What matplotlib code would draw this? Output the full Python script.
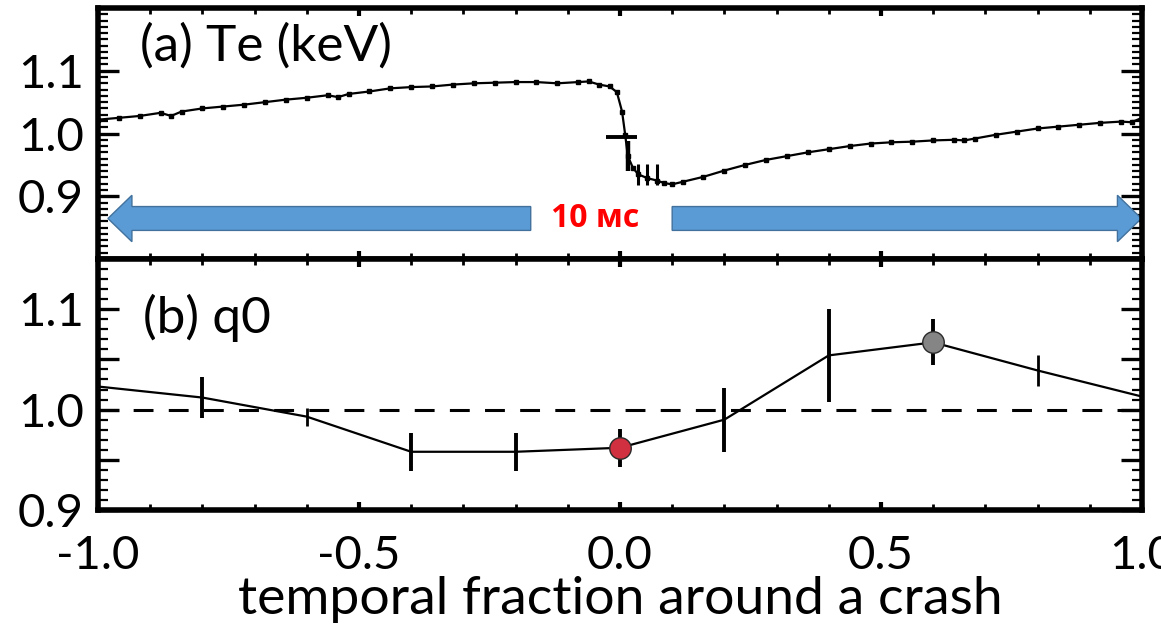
import numpy as np
import matplotlib
matplotlib.use("Agg")
import matplotlib.pyplot as plt
from matplotlib.patches import FancyArrow
from matplotlib.ticker import FixedLocator, MultipleLocator, FuncFormatter

plt.rcParams["font.family"] = ["Lato", "DejaVu Sans"]
plt.rcParams["axes.unicode_minus"] = False

# ── (a) Te (keV) trace ────────────────────────────────────────────────────────
te_x = [-1.00, -0.96, -0.92, -0.88, -0.86, -0.84, -0.80, -0.76, -0.72, -0.68,
        -0.64, -0.60, -0.56, -0.54, -0.52, -0.48, -0.44, -0.40, -0.36, -0.32,
        -0.28, -0.24, -0.20, -0.16, -0.12, -0.08, -0.06, -0.04, -0.02, -0.006,
        0.004, 0.010, 0.015, 0.025, 0.035, 0.052, 0.071, 0.085, 0.100, 0.12,
        0.16, 0.20, 0.24, 0.28, 0.32, 0.36, 0.40, 0.44, 0.48, 0.52,
        0.56, 0.60, 0.64, 0.66, 0.68, 0.72, 0.76, 0.80, 0.84, 0.88,
        0.92, 0.96, 0.98, 1.00]
te_y = [1.022, 1.025, 1.028, 1.033, 1.028, 1.035, 1.040, 1.043, 1.046, 1.050,
        1.054, 1.057, 1.061, 1.058, 1.063, 1.067, 1.072, 1.074, 1.075, 1.078,
        1.080, 1.081, 1.082, 1.082, 1.080, 1.082, 1.083, 1.078, 1.075, 1.066,
        1.035, 0.998, 0.964, 0.945, 0.935, 0.929, 0.925, 0.921, 0.919, 0.923,
        0.931, 0.941, 0.950, 0.958, 0.964, 0.970, 0.975, 0.980, 0.984, 0.986,
        0.987, 0.989, 0.990, 0.989, 0.992, 0.998, 1.003, 1.008, 1.011, 1.014,
        1.017, 1.019, 1.018, 1.025]

# error bars around the crash
te_vbar_x = [0.015, 0.035, 0.052, 0.071]
te_vbar_y = [0.964, 0.935, 0.935, 0.935]
te_vbar_dy = [0.024, 0.017, 0.017, 0.017]
te_hbar_x = [0.003]
te_hbar_y = [0.995]
te_hbar_dx = [0.030]

# ── (b) q0 ────────────────────────────────────────────────────────────────────
q_x = [-1.0, -0.8, -0.6, -0.4, -0.2, 0.0, 0.2, 0.4, 0.6, 0.8, 1.0]
q_y = [1.023, 1.012, 0.993, 0.958, 0.958, 0.962, 0.990, 1.054, 1.067, 1.039, 1.013]
q_err = [0.0, 0.020, 0.009, 0.019, 0.019, 0.019, 0.032, 0.046, 0.023, 0.015, 0.0]
thin_bars = [2, 9]
red_idx, grey_idx = 5, 8

fig = plt.figure(figsize=(11.61, 6.27), dpi=100)
ax_a = fig.add_axes([0.0844, 0.5869, 0.8992, 0.4003])
ax_b = fig.add_axes([0.0844, 0.1866, 0.8992, 0.4003])

# ── panel (a) ─────────────────────────────────────────────────────────────────
ax_a.plot(te_x, te_y, color="black", lw=1.6, marker="s", ms=2.8,
          mec="black", mfc="black", zorder=3)
ax_a.errorbar(te_vbar_x[:1], te_vbar_y[:1], yerr=te_vbar_dy[:1], fmt="none",
              ecolor="black", elinewidth=3.2, capsize=0, zorder=3)
ax_a.errorbar(te_vbar_x[1:], te_vbar_y[1:], yerr=te_vbar_dy[1:], fmt="none",
              ecolor="black", elinewidth=2.2, capsize=0, zorder=3)
ax_a.errorbar(te_hbar_x, te_hbar_y, xerr=te_hbar_dx, fmt="none",
              ecolor="black", elinewidth=2.8, capsize=0, zorder=3)

# 10 ms double arrow
arrow_kw = dict(width=0.038, head_width=0.074, head_length=0.046,
                length_includes_head=True, fc="#5B9BD5", ec="#41719C",
                lw=1.0, zorder=2)
ax_a.add_patch(FancyArrow(-0.171, 0.8646, -0.81, 0.0, **arrow_kw))
ax_a.add_patch(FancyArrow(0.100, 0.8646, 0.899, 0.0, **arrow_kw))
ax_a.text(-0.048, 0.8646, "10 мс", color="#FF0000", fontsize=23,
          fontweight="bold", ha="center", va="center",
          family=["Open Sans", "DejaVu Sans"])

ax_a.text(0.040, 0.849, "(a) Te (keV)", transform=ax_a.transAxes,
          fontsize=37, ha="left", va="center")

ax_a.set_ylim(0.8, 1.2)
ax_a.yaxis.set_major_locator(FixedLocator([0.9, 1.0, 1.1]))
ax_a.yaxis.set_minor_locator(MultipleLocator(0.01))
ax_a.yaxis.set_major_formatter(FuncFormatter(lambda v, p: f"{v:.1f}"))

# ── panel (b) ─────────────────────────────────────────────────────────────────
ax_b.axhline(1.0, color="black", lw=2.2, linestyle=(0, (6.5, 5.0)), zorder=1)
ax_b.plot(q_x, q_y, color="black", lw=1.6, zorder=2)
thick = [i for i in range(len(q_x)) if i not in thin_bars and q_err[i] > 0]
ax_b.errorbar([q_x[i] for i in thick], [q_y[i] for i in thick],
              yerr=[q_err[i] for i in thick], fmt="none", ecolor="black",
              elinewidth=2.8, capsize=0, zorder=3)
ax_b.errorbar([q_x[i] for i in thin_bars], [q_y[i] for i in thin_bars],
              yerr=[q_err[i] for i in thin_bars], fmt="none", ecolor="black",
              elinewidth=2.0, capsize=0, zorder=3)
ax_b.plot(q_x[red_idx], q_y[red_idx], "o", ms=15.5, mfc="#D0303F",
          mec="#2a2a2a", mew=1.0, zorder=4)
ax_b.plot(q_x[grey_idx], q_y[grey_idx], "o", ms=15.5, mfc="#858585",
          mec="#2a2a2a", mew=1.0, zorder=4)

ax_b.text(0.043, 0.764, "(b) q0", transform=ax_b.transAxes,
          fontsize=37, ha="left", va="center")

ax_b.set_ylim(0.9, 1.15)
ax_b.yaxis.set_major_locator(FixedLocator([0.9, 0.95, 1.0, 1.05, 1.1]))
ax_b.yaxis.set_minor_locator(MultipleLocator(0.01))
ax_b.yaxis.set_major_formatter(
    FuncFormatter(lambda v, p: f"{v:.1f}" if round(v * 100) % 10 == 0 else ""))
ax_b.set_xlabel("temporal fraction around a crash", fontsize=38.5, labelpad=-1)

# ── shared axis styling ───────────────────────────────────────────────────────
for ax in (ax_a, ax_b):
    ax.set_xlim(-1.0, 1.0)
    ax.xaxis.set_major_locator(FixedLocator([-1.0, -0.5, 0.0, 0.5, 1.0]))
    ax.xaxis.set_minor_locator(MultipleLocator(0.1))
    for sp in ax.spines.values():
        sp.set_linewidth(4.0)
    ax.tick_params(which="both", direction="in", top=True, right=True,
                   labelsize=34)
    ax.tick_params(axis="y", which="major", length=15, width=2.4, pad=10)
    ax.tick_params(axis="y", which="minor", length=7.5, width=1.6)
    ax.tick_params(axis="x", which="major", length=6, width=3, pad=18)
    ax.tick_params(axis="x", which="minor", length=4, width=2)

ax_a.tick_params(axis="x", labelbottom=False)
ax_b.set_xticklabels(["-1.0", "-0.5", "0.0", "0.5", "1.0"])

fig.savefig("out.png", dpi=100)
